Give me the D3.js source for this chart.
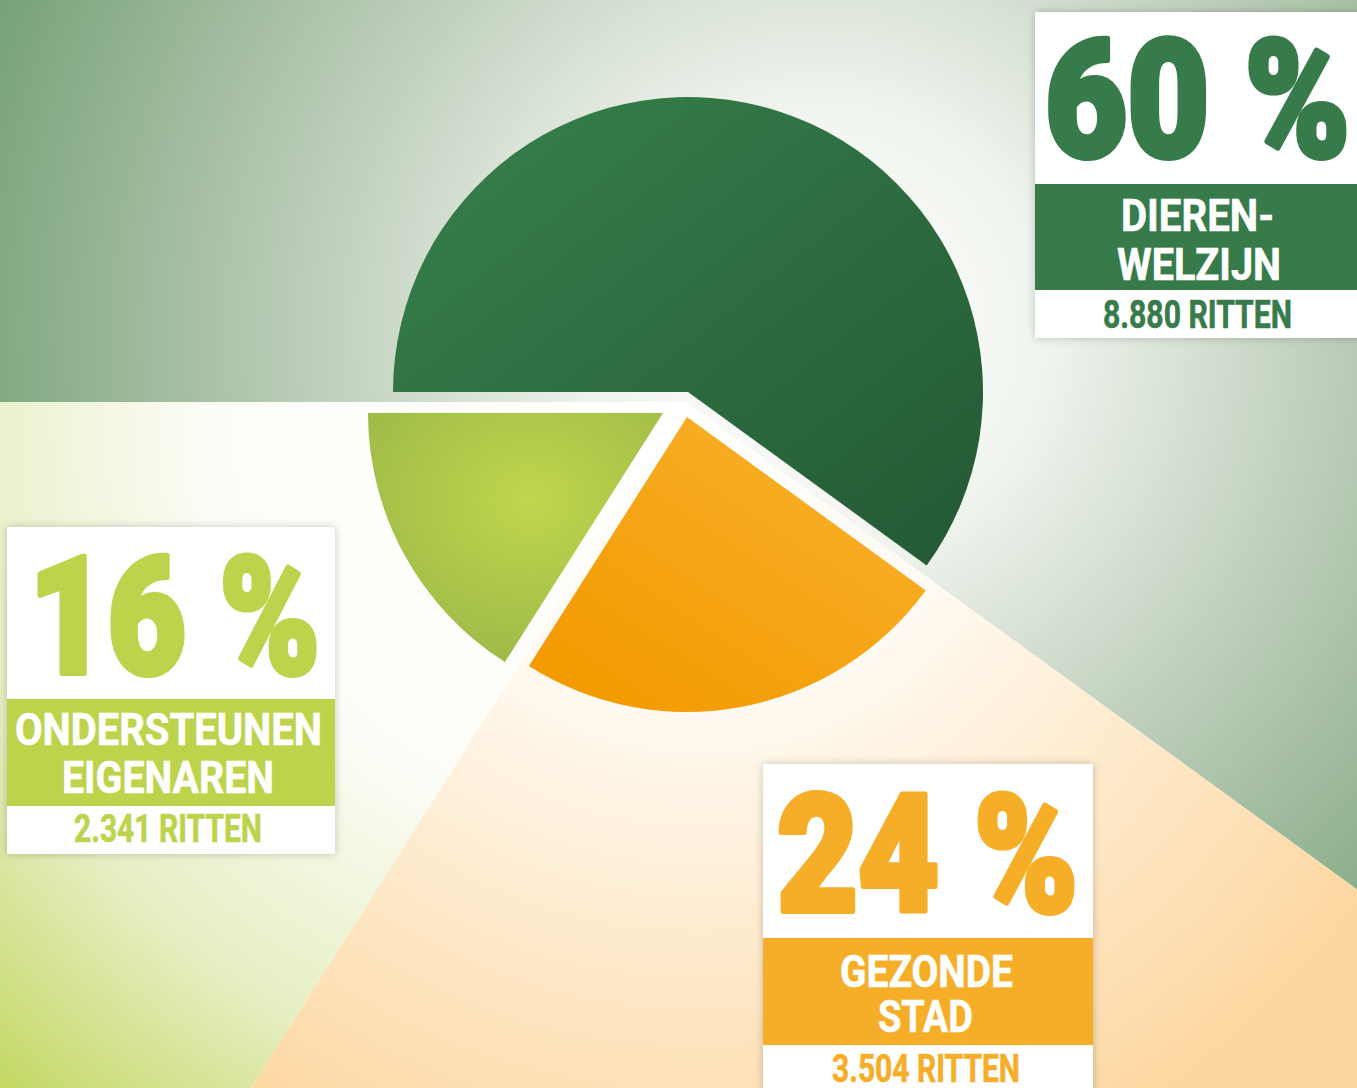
<!DOCTYPE html>
<html><head><meta charset="utf-8">
<script src="https://cdn.jsdelivr.net/npm/d3@7"></script>
<style>html,body{margin:0;padding:0;background:#fff;overflow:hidden}</style>
</head><body><svg id="c" width="1357" height="1088"></svg>
<script>
// ---- data ----
const categoryLines = [["DIEREN-", "WELZIJN"], ["GEZONDE", "STAD"], ["ONDERSTEUNEN", "EIGENAREN"]];
const percentages = [60, 24, 16];
const rides = [8880, 3504, 2341];
const ridesUnit = "RITTEN";

// ---- style / layout ----
const W = 1357, H = 1088;
const pieCenter = [688, 392];
const bgCenter = [686, 402];
const R = 295;
const sliceOffsets = [[0, 0], [-1, 25], [-25, 21]];
const mainColors = ["#377b4b", "#f6ae28", "#bdd34c"];
const font = "Roboto, 'Liberation Sans', 'DejaVu Sans', sans-serif";

const boxLayout = [
  {x:1035,y:12,w:330,h:326,bandY:184,bandH:106,
   pct:{x:1045,y:156,len:305}, lines:[{x:1121,y:231,len:153},{x:1117,y:280,len:164}], rides:{x:1103,y:328,len:189}},
  {x:763,y:764,w:330,h:340,bandY:938,bandH:107,
   pct:{x:777,y:911,len:301}, lines:[{x:840,y:987,len:173},{x:878,y:1032,len:95}], rides:{x:832,y:1082,len:188}},
  {x:7,y:527,w:328,h:327,bandY:699,bandH:107,
   pct:{x:29,y:673,len:291}, lines:[{x:15,y:745,len:307},{x:62,y:793,len:212}], rides:{x:74,y:842,len:188}}
];

const svg = d3.select("#c");
const defs = svg.append("defs");

function radial(id, cx, cy, r, stops, origin) {
  const g = defs.append("radialGradient").attr("id", id).attr("gradientUnits", "userSpaceOnUse")
    .attr("cx", cx - origin[0]).attr("cy", cy - origin[1]).attr("r", r);
  stops.forEach(s => g.append("stop").attr("offset", s[0]).attr("stop-color", s[1]));
}
function linearBB(id, x1, y1, x2, y2, stops) {
  const g = defs.append("linearGradient").attr("id", id)
    .attr("x1", x1).attr("y1", y1).attr("x2", x2).attr("y2", y2);
  stops.forEach(s => g.append("stop").attr("offset", s[0]).attr("stop-color", s[1]));
}

// background gradients
radial("bg0", 820, 330, 900, [[0,"#ffffff"],[0.25,"#f0f4ee"],[0.6,"#b8cab5"],[1,"#74a074"]], bgCenter);
radial("bg1", 700, 420, 820, [[0,"#ffffff"],[0.35,"#fffaf2"],[1,"#fdd7a0"]], bgCenter);
radial("bg2", 620, 420, 900, [[0,"#ffffff"],[0.45,"#fdfdf8"],[0.75,"#e6efc4"],[1,"#c4d968"]], bgCenter);

// slice gradients
linearBB("s0", 0, 0, 1, 1, [[0,"#38824d"],[1,"#235833"]]);
linearBB("s1", 1, 0.1, 0.2, 1, [[0,"#f8b22e"],[1,"#f39a00"]]);
{
  const g = defs.append("radialGradient").attr("id", "s2").attr("cx", 0.55).attr("cy", 0.35).attr("r", 0.75);
  g.append("stop").attr("offset", 0).attr("stop-color", "#bfd64d");
  g.append("stop").attr("offset", 1).attr("stop-color", "#9ab747");
}

const shadow = defs.append("filter").attr("id", "sh").attr("x", "-10%").attr("y", "-10%").attr("width", "120%").attr("height", "120%");
shadow.append("feDropShadow").attr("dx", 0).attr("dy", 0).attr("stdDeviation", 4)
  .attr("flood-color", "#000").attr("flood-opacity", 0.22);

const pie = d3.pie().sort(null).value(d => d)
  .startAngle(-Math.PI / 2).endAngle(1.5 * Math.PI);
const arcs = pie(percentages);

// background wedges
const bgArc = d3.arc().innerRadius(0).outerRadius(2400);
svg.append("rect").attr("width", W).attr("height", H).attr("fill", "#ffffff");
svg.append("g").attr("transform", `translate(${bgCenter})`)
  .selectAll("path").data(arcs).join("path")
  .attr("d", bgArc).attr("fill", (d, i) => `url(#bg${i})`);

// pie slices
const arc = d3.arc().innerRadius(0).outerRadius(R);
svg.append("g").selectAll("path").data(arcs).join("path")
  .attr("transform", (d, i) => `translate(${pieCenter[0] + sliceOffsets[i][0]},${pieCenter[1] + sliceOffsets[i][1]})`)
  .attr("d", arc).attr("fill", (d, i) => `url(#s${i})`);

// label boxes
const fmt = d3.formatLocale({decimal: ",", thousands: ".", grouping: [3], currency: ["€", ""]}).format(",d");

boxLayout.forEach((b, i) => {
  const g = svg.append("g");
  g.append("rect").attr("x", b.x).attr("y", b.y).attr("width", b.w).attr("height", b.h)
    .attr("fill", "#fff").attr("filter", "url(#sh)");
  g.append("rect").attr("x", b.x).attr("y", b.bandY).attr("width", b.w).attr("height", b.bandH)
    .attr("fill", mainColors[i]);
  g.append("text").attr("x", b.pct.x).attr("y", b.pct.y)
    .attr("textLength", b.pct.len).attr("lengthAdjust", "spacingAndGlyphs")
    .attr("font-family", font).attr("font-weight", 900).attr("font-size", 164)
    .attr("fill", mainColors[i]).attr("stroke", mainColors[i]).attr("stroke-width", 6).attr("stroke-linejoin", "round")
    .text(percentages[i] + " %");
  categoryLines[i].forEach((t, j) => {
    const L = b.lines[j];
    g.append("text").attr("x", L.x).attr("y", L.y)
      .attr("textLength", L.len).attr("lengthAdjust", "spacingAndGlyphs")
      .attr("font-family", font).attr("font-weight", 700).attr("font-size", 45)
      .attr("fill", "#ffffff").attr("stroke", "#ffffff").attr("stroke-width", 0.6)
      .text(t);
  });
  g.append("text").attr("x", b.rides.x).attr("y", b.rides.y)
    .attr("textLength", b.rides.len).attr("lengthAdjust", "spacingAndGlyphs")
    .attr("font-family", font).attr("font-weight", 700).attr("font-size", 38)
    .attr("fill", mainColors[i]).attr("stroke", mainColors[i]).attr("stroke-width", 0.6)
    .text(fmt(rides[i]) + " " + ridesUnit);
});
</script>
</body></html>
